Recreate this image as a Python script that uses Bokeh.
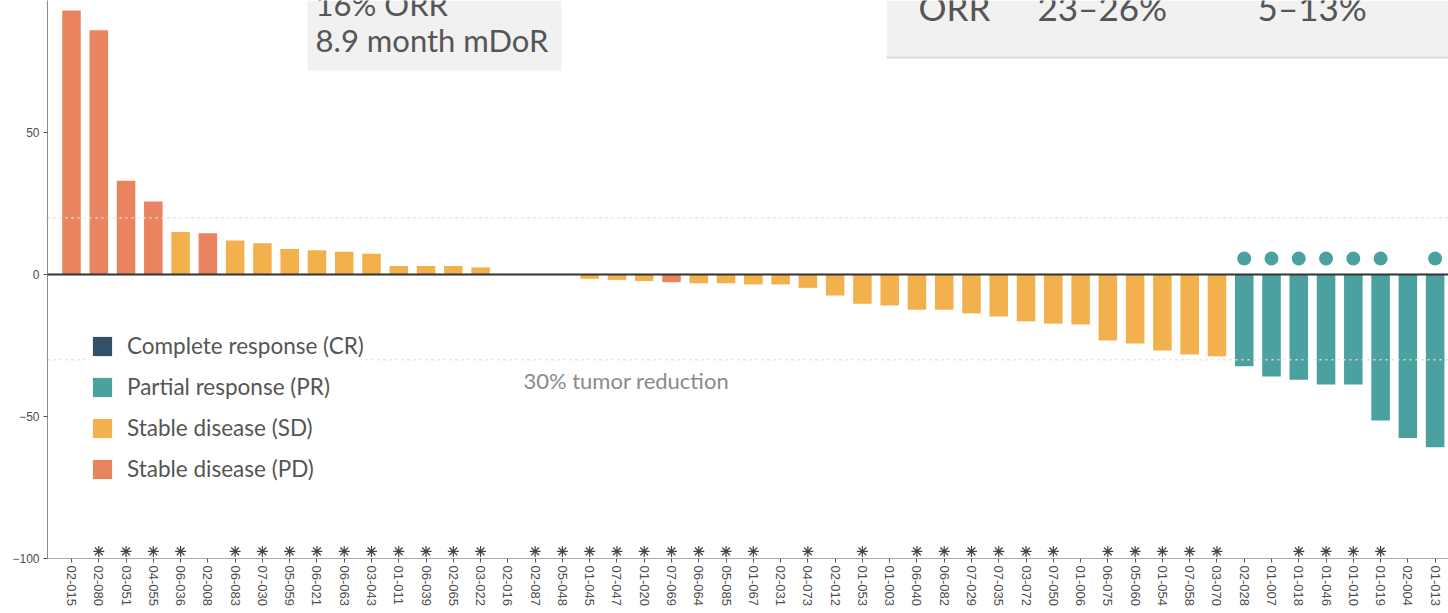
from bokeh.plotting import figure
from bokeh.models import (ColumnDataSource, Range1d, FixedTicker, Span, BoxAnnotation,
                          Label, Legend, LegendItem)
from bokeh.embed import file_html
from bokeh.resources import INLINE

# ---------------- data ----------------
patients = ["02-015", "02-080", "03-051", "04-055", "06-036", "02-008", "06-083", "07-030",
            "05-059", "06-021", "06-063", "03-043", "01-011", "06-039", "02-065", "03-022",
            "02-016", "02-087", "05-048", "01-045", "07-047", "01-020", "07-069", "06-064",
            "05-085", "01-067", "02-031", "04-073", "02-012", "01-053", "01-003", "06-040",
            "06-082", "07-029", "07-035", "03-072", "07-050", "01-006", "06-075", "05-060",
            "01-054", "07-058", "03-070", "02-028", "01-007", "01-018", "01-046", "01-010",
            "01-019", "02-004", "01-013"]

change_pct = [93, 86, 33, 25.7, 15, 14.5, 12, 11, 9, 8.5, 8, 7.3, 3, 3, 3, 2.5,
              0, 0, 0, -1.5, -1.9, -2.3, -2.7, -3.1, -3.1, -3.5, -3.5, -4.7, -7.4, -10.3,
              -10.9, -12.4, -12.4, -13.7, -14.8, -16.5, -17.3, -17.6, -23.2, -24.3, -26.8,
              -28.2, -28.8, -32.3, -35.9, -37.1, -38.7, -38.7, -51.4, -57.6, -60.8]

response = ["PD", "PD", "PD", "PD", "SD", "PD", "SD", "SD", "SD", "SD", "SD", "SD", "SD",
            "SD", "SD", "SD", "SD", "SD", "SD", "SD", "SD", "SD", "PD", "SD", "SD", "SD",
            "SD", "SD", "SD", "SD", "SD", "SD", "SD", "SD", "SD", "SD", "SD", "SD", "SD",
            "SD", "SD", "SD", "SD", "PR", "PR", "PR", "PR", "PR", "PR", "PR", "PR"]

asterisk = [0, 1, 1, 1, 1, 0, 1, 1, 1, 1, 1, 1, 1, 1, 1, 1, 0, 1, 1, 1, 1, 1, 1, 1, 1, 1,
            0, 1, 0, 1, 0, 1, 1, 1, 1, 1, 1, 0, 1, 1, 1, 1, 1, 0, 0, 1, 1, 1, 1, 0, 0]

ongoing = [0] * 43 + [1, 1, 1, 1, 1, 1, 0, 1]

legend_labels = {"CR": "Complete response (CR)", "PR": "Partial response (PR)",
                 "SD": "Stable disease (SD)", "PD": "Stable disease (PD)"}
colors = {"CR": "#325066", "PR": "#4BA0A0", "SD": "#F3B14E", "PD": "#E98461"}

FONT = "Lato"
AX_FONT = "Liberation Sans"

# ---------------- figure ----------------
p = figure(width=1448, height=613, output_backend="svg", toolbar_location=None,
           x_range=Range1d(-0.88, 50.49), y_range=Range1d(-100, 96.48),
           min_border_left=47, min_border_right=0, min_border_top=0, min_border_bottom=55)
p.outline_line_color = None
p.xgrid.visible = False
p.ygrid.visible = False
p.background_fill_color = "white"
p.border_fill_color = "white"

xs = list(range(len(patients)))

# gray boxes (slide annotations)
p.add_layout(BoxAnnotation(left=8.65, right=17.97, bottom=71.8, fill_color="#F1F1F1",
                           fill_alpha=1, line_color=None, level="underlay"))
p.add_layout(BoxAnnotation(left=29.89, bottom=76.8, fill_color="#F1F1F1",
                           fill_alpha=1, line_color=None, level="underlay"))
p.add_layout(BoxAnnotation(left=29.89, bottom=76.1, top=76.8, fill_color="#DADADA",
                           fill_alpha=1, line_color=None, level="underlay"))

# reference lines
p.add_layout(Span(location=20, dimension="width", line_color="#DDDDDD", line_width=1.5,
                  line_dash="2 4"))
p.add_layout(Span(location=-30, dimension="width", line_color="#DDDDDD", line_width=1.5,
                  line_dash="2 4"))

renderers = {}
for key in ["CR", "PR", "SD", "PD"]:
    idx = [i for i in xs if response[i] == key]
    if idx:
        data = dict(x=[xs[i] for i in idx], v=[change_pct[i] for i in idx])
    else:
        data = dict(x=[float("nan")], v=[float("nan")])
    src = ColumnDataSource(data)
    renderers[key] = p.vbar(x="x", top="v", bottom=0, width=0.68, source=src,
                            fill_color=colors[key], line_color=None)

p.add_layout(Span(location=0, dimension="width", line_color="#333333", line_width=2))

# asterisks and ongoing-response dots
ast_x = [xs[i] for i in xs if asterisk[i]]
p.scatter(x=ast_x, y=[-97.5] * len(ast_x), marker="asterisk", size=11,
          line_color="#444444", line_width=1.2)
dot_x = [xs[i] for i in xs if ongoing[i]]
p.scatter(x=dot_x, y=[5.6] * len(dot_x), marker="circle", size=14,
          fill_color=colors["PR"], line_color=None)

# texts
txt = dict(text_font=FONT, text_color="#555555", text_baseline="alphabetic")
p.add_layout(Label(x=8.95, y=95.4, text="16% ORR", text_font_size="31px", **txt))
p.add_layout(Label(x=8.95, y=82.4, text="8.9 month mDoR", text_font_size="31px", **txt))
p.add_layout(Label(x=31.06, y=94.26, text="ORR", text_font_size="35px", **txt))
p.add_layout(Label(x=35.42, y=94.26, text="23\u201326%", text_font_size="35px", **txt))
p.add_layout(Label(x=43.49, y=94.26, text="5\u201313%", text_font_size="35px", **txt))
p.add_layout(Label(x=16.57, y=-37.25, text="30% tumor reduction", text_font=FONT,
                   text_font_size="22px", text_color="#8A8A8A", text_baseline="alphabetic"))

# axes
p.yaxis.ticker = FixedTicker(ticks=[-100, -50, 0, 50])
p.yaxis.major_label_text_font = AX_FONT
p.yaxis.major_label_text_font_size = "12px"
p.yaxis.major_label_text_color = "#4D4D4D"
p.yaxis.axis_line_color = "#8C8C8C"
p.yaxis.major_tick_line_color = "#555555"
p.yaxis.minor_tick_line_color = None
p.yaxis.major_tick_out = 4
p.yaxis.major_tick_in = 0
p.yaxis.major_label_standoff = 4

p.xaxis.ticker = FixedTicker(ticks=xs)
p.xaxis.major_label_overrides = {i: patients[i] for i in xs}
p.xaxis.major_label_orientation = "vertical"
p.xaxis.major_label_text_font = AX_FONT
p.xaxis.major_label_text_font_size = "13px"
p.xaxis.major_label_text_color = "#4D4D4D"
p.xaxis.axis_line_color = "#AAAAAA"
p.xaxis.major_tick_line_color = "#555555"
p.xaxis.minor_tick_line_color = None
p.xaxis.major_tick_out = 4
p.xaxis.major_tick_in = 0
p.xaxis.major_label_standoff = 3

legend = Legend(items=[LegendItem(label=legend_labels[k], renderers=[renderers[k]])
                       for k in ["CR", "PR", "SD", "PD"]],
                location=(43, 76), label_text_font=FONT, label_text_font_size="22.5px",
                label_text_color="#555555", glyph_width=24, glyph_height=24,
                label_height=24, spacing=14, padding=10, margin=0,
                background_fill_color="white", background_fill_alpha=1,
                border_line_color=None, label_standoff=13)
p.add_layout(legend)

open("out.html", "w").write(file_html(p, INLINE))
